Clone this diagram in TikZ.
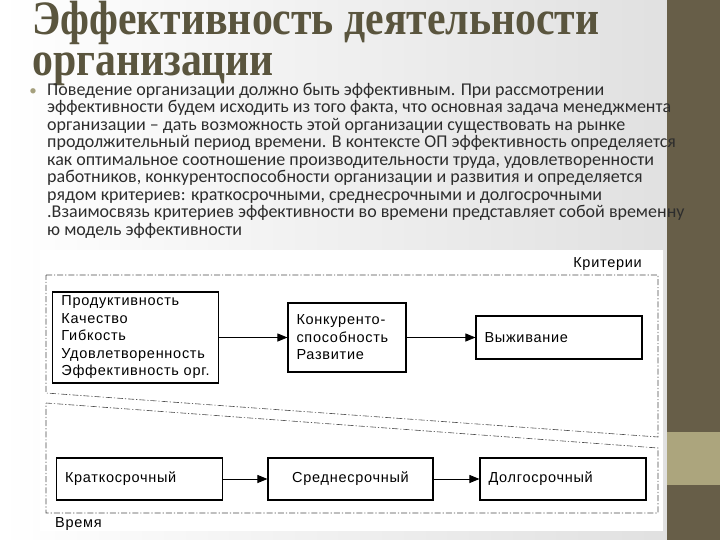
\documentclass[tikz,border=0pt]{standalone}
\usepackage{fontspec}
\setmainfont{Carlito}
\newfontfamily\titlefont{Liberation Serif}
\newfontfamily\diagfont{Liberation Sans}[LetterSpace=5]
\usetikzlibrary{arrows.meta,positioning}
\definecolor{titlecol}{RGB}{90,85,62}
\definecolor{barcol}{RGB}{103,94,72}
\definecolor{bandcol}{RGB}{172,165,125}
\definecolor{bodycol}{RGB}{45,45,45}
\definecolor{bulletcol}{RGB}{165,160,125}
\tikzset{
  crit/.style={draw, line width=1.1pt, fill=white, align=left, inner xsep=8.5pt, font=\diagfont\fontsize{14.5}{17.5}\selectfont},
  term/.style={draw, line width=1.1pt, fill=white, text width=149pt, inner xsep=8.5pt, minimum height=42pt, font=\diagfont\fontsize{14.5}{16}\selectfont},
  frame/.style={draw=black!70, line width=0.6pt, dash pattern=on 6pt off 2pt on 1.2pt off 2pt},
  flow/.style={-{Triangle[length=10pt,width=8pt]}, line width=0.9pt},
  tag/.style={font=\diagfont\fontsize{14.5}{16}\selectfont, inner sep=0pt},
  headline/.style={anchor=base west, inner sep=0pt, text=titlecol, xscale=0.87, font=\titlefont\bfseries\fontsize{48}{48}\selectfont}
}

\begin{document}
\begin{tikzpicture}[x=1pt,y=-1pt]
  \useasboundingbox (0,0) rectangle (720,540);
  % slide background and side bar
  \shade[left color=white, right color=black!12] (0,0) rectangle (667,540);
  \fill[barcol] (667,0) rectangle (720,540);
  \fill[bandcol] (667,432) rectangle (720,485);

  \node[headline] (title1) at (32,35) {Эффективность деятельности};
  \node[headline] (title2) at (32,76) {организации};

  \node[text=bulletcol, inner sep=0pt, font=\fontsize{15}{15}\selectfont] (dot) at (33,92) {•};
  \node[anchor=north west, align=left, inner sep=0pt, text=bodycol, font=\fontsize{18}{17.5}\selectfont] (body) at (47,83) {%
    Поведение организации должно быть эффективным. При рассмотрении\\
    эффективности будем исходить из того факта, что основная задача менеджмента\\
    организации – дать возможность этой организации существовать на рынке\\
    продолжительный период времени. В контексте ОП эффективность определяется\\
    как оптимальное соотношение производительности труда, удовлетворенности\\
    работников, конкурентоспособности организации и развития и определяется\\
    рядом критериев: краткосрочными, среднесрочными и долгосрочными\\
    .Взаимосвязь критериев эффективности во времени представляет собой временну\\
    ю модель эффективности};

  % diagram panel
  \fill[white] (40,250) rectangle (663,531);
  \draw[frame] (46,275) -- (658,275) -- (658,437) -- (46,393) -- cycle;
  \draw[frame] (46,403) -- (658,448) -- (658,513) -- (46,513) -- cycle;
  \node[tag, anchor=east] (crit) at (642,264) {Критерии};
  \node[tag, anchor=west] (time) at (55,524) {Время};

  \node[crit, minimum width=165pt, minimum height=91pt] (prod) at (135.5,337.5) {Продуктивность\\Качество\\Гибкость\\Удовлетворенность\\Эффективность орг.};
  \node[crit, text width=101pt, minimum height=69pt] (konk) at (347,337.5) {Конкуренто-\\способность\\Развитие};
  \node[crit, text width=149pt, minimum height=43pt] (surv) at (559,337.5) {Выживание};
  \draw[flow] (prod) -- (konk);
  \draw[flow] (konk) -- (surv);

  \node[term, align=left] (shortt) at (139.5,479) {Краткосрочный};
  \node[term, align=center, text width=148pt] (midt) at (350.5,479) {Среднесрочный};
  \node[term, align=left] (longt) at (563,479) {Долгосрочный};
  \draw[flow] (shortt) -- (midt);
  \draw[flow] (midt) -- (longt);
\end{tikzpicture}
\end{document}
